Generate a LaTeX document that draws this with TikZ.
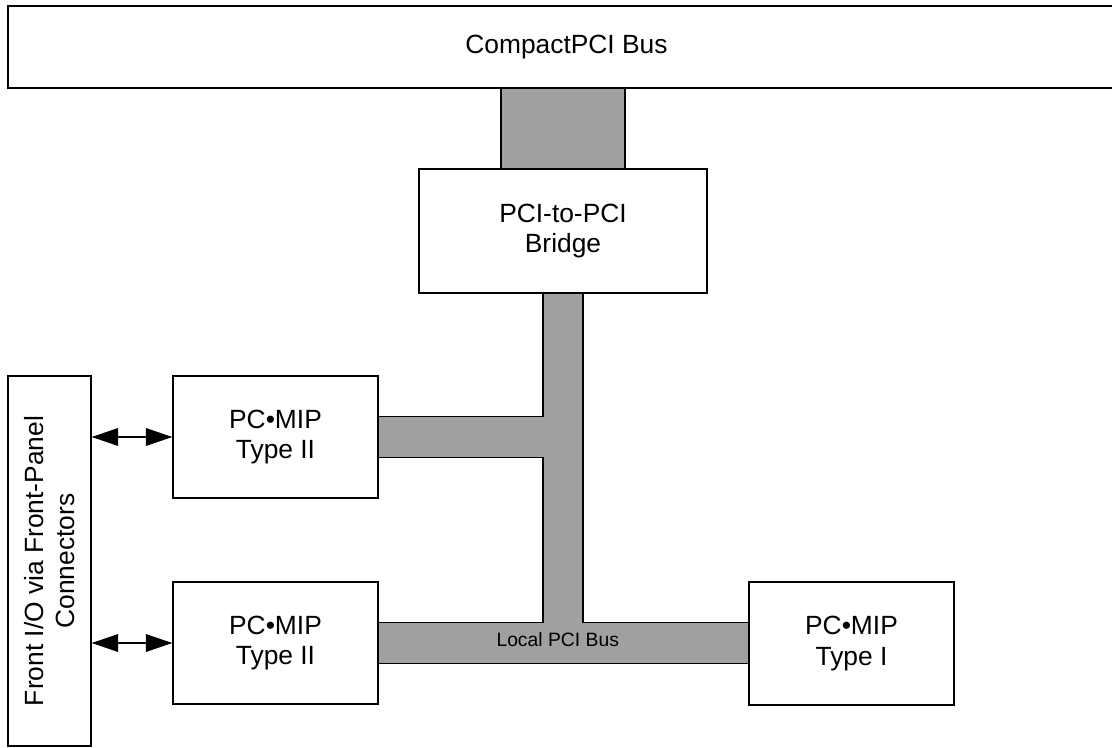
\documentclass[tikz,border=0pt]{standalone}
\usepackage{fontspec}
\setmainfont{Liberation Sans}
\usepackage{tikz}
\usetikzlibrary{arrows.meta, positioning, calc}
\definecolor{busgray}{RGB}{160, 160, 160}

\begin{document}
\begin{tikzpicture}[
    x=0.02cm, y=-0.02cm,
    block/.style={rectangle, draw=black, fill=white, line width=0.8pt, align=center, inner sep=0pt, font=\fontsize{15}{17.4}\selectfont},
    busfill/.style={draw=black, fill=busgray, line width=0.8pt},
    ioarrow/.style={{Triangle[length=15pt, width=10pt]}-{Triangle[length=15pt, width=10pt]}, line width=0.8pt, black}
]
    \useasboundingbox (0,0) rectangle (1112,747);

    \node[block, minimum width=22.34cm, minimum height=1.64cm] (cpcibus) at (566.5,47) {CompactPCI Bus};
    \node[block, minimum width=5.76cm, minimum height=2.48cm] (bridge) at (563,231) {PCI-to-PCI\\Bridge};

    % Bus from CompactPCI to bridge
    \coordinate (tr) at ($(bridge.north)+(62,0)$);
    \draw[busfill] ($(bridge.north)+(-62,0)$) rectangle (tr |- cpcibus.south);
    \node[block, minimum width=5.76cm, minimum height=2.48cm] at (bridge) {PCI-to-PCI\\Bridge};

    \node[block, minimum width=4.1cm, minimum height=2.44cm] (mipa) at (275.5,437) {PC•MIP\\Type II};
    \node[block, minimum width=4.1cm, minimum height=2.44cm] (mipb) at (275.5,643) {PC•MIP\\Type II};
    \node[block, minimum width=4.1cm, minimum height=2.46cm] (mipc) at (851.5,643.5) {PC•MIP\\Type I};
    \node[block, minimum width=1.66cm, minimum height=7.4cm] (frontio) at (49.5,561) {};
    \node[rotate=90, align=center, font=\fontsize{15}{17.4}\selectfont] (frontiotext) at (frontio.center) {Front I/O via Front-Panel\\Connectors};

    % Local PCI bus
    \coordinate (vl) at ($(bridge.south)+(-20,0)$);
    \coordinate (vr) at ($(bridge.south)+(20,0)$);
    \coordinate (ua) at ($(mipa.east)+(0,-20.5)$);
    \coordinate (ub) at ($(mipa.east)+(0,20.5)$);
    \coordinate (la) at ($(mipb.east)+(0,-20.5)$);
    \coordinate (lb) at ($(mipb.east)+(0,20.5)$);
    \draw[busfill] (vl) -- (vl |- ua) -- (ua) -- (ub) -- (vl |- ub) -- (vl |- la) -- (la) -- (lb)
        -- (mipc.west |- lb) -- (mipc.west |- la) -- (vr |- la) -- (vr) -- cycle;
    \node[font=\fontsize{11}{12}\selectfont, xshift=-3pt, yshift=2pt] (localbus) at (bridge.south |- mipb.east) {Local PCI Bus};

    \draw[ioarrow] (frontio.east |- mipa.west) -- (mipa.west);
    \draw[ioarrow] (frontio.east |- mipb.west) -- (mipb.west);
\end{tikzpicture}
\end{document}
